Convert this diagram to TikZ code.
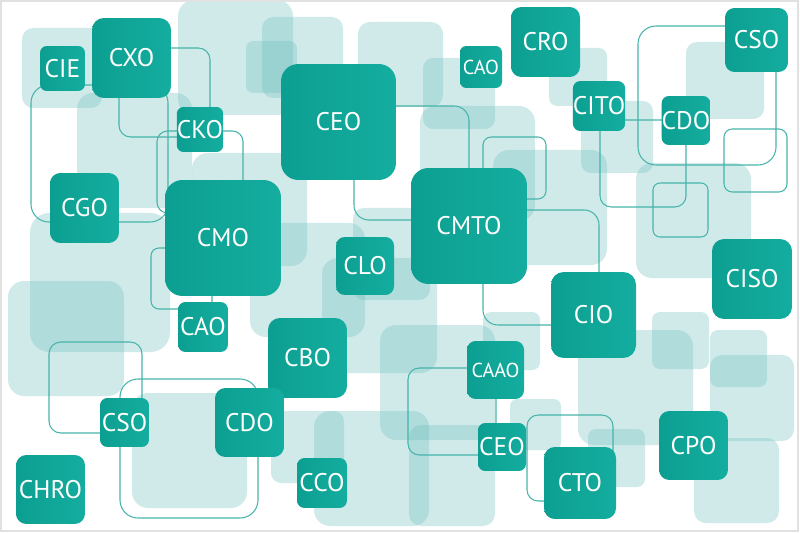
\documentclass[tikz,border=0pt]{standalone}
\usepackage{fontspec}
\setmainfont{PT Sans}
\definecolor{dkL}{RGB}{12,159,145}
\definecolor{dkR}{RGB}{20,173,159}
\definecolor{ltc}{RGB}{110,192,190}
\definecolor{olc}{RGB}{70,180,170}
\definecolor{frame}{RGB}{225,225,225}
\newcommand\smallfnt{\fontsize{11.5}{13}\selectfont}
\newcommand\dkb[6]{\node[dkst, minimum width={(#4-#2)*0.2mm}, minimum height={(#5-#3)*0.2mm}, rounded corners={0.15*(#4-#2)*0.2mm}] (#1) at ({(#2+#4)/2},{(#3+#5)/2}) {#6};}
\newcommand\ltb[4]{\fill[ltst, rounded corners={0.14*min(#3-#1,#4-#2)*0.2mm}] (#1,#2) rectangle (#3,#4);}
\newcommand\olb[4]{\draw[olst, rounded corners={0.13*min(#3-#1,#4-#2)*0.2mm}] (#1,#2) rectangle (#3,#4);}
\tikzset{
  dkst/.style={shape=rectangle, left color=dkL, right color=dkR, draw=none, inner sep=0pt, text=white, font=\fontsize{14.5}{16}\selectfont},
  ltst/.style={fill=ltc, fill opacity=0.32},
  olst/.style={draw=olc, line width=0.6pt}
}
\begin{document}
\begin{tikzpicture}[x=0.02cm, y=-0.02cm]
\useasboundingbox (0,0) rectangle (800,533);
\fill[white] (0,0) rectangle (800,533);
% light boxes
\ltb{22}{28}{102}{108}
\ltb{77}{93}{192}{208}
\ltb{30}{213}{170}{352}
\ltb{8}{281}{124}{396}
\ltb{178}{0}{293}{115}
\ltb{246}{41}{297}{93}
\ltb{262}{17}{343}{98}
\ltb{358}{22}{443}{107}
\ltb{423}{58}{495}{129}
\ltb{420}{106}{535}{221}
\ltb{493}{150}{607}{265}
\ltb{549}{48}{607}{106}
\ltb{581}{101}{653}{173}
\ltb{686}{42}{764}{119}
\ltb{636}{163}{751}{278}
\ltb{132}{393}{247}{508}
\ltb{192}{153}{307}{266}
\ltb{250}{223}{365}{337}
\ltb{322}{258}{437}{373}
\ltb{353}{208}{430}{300}
\ltb{380}{325}{495}{440}
\ltb{271}{411}{344}{483}
\ltb{314}{411}{429}{526}
\ltb{409}{425}{495}{526}
\ltb{578}{330}{693}{445}
\ltb{652}{312}{709}{369}
\ltb{710}{330}{767}{387}
\ltb{710}{355}{794}{441}
\ltb{694}{438}{779}{523}
\ltb{588}{429}{645}{487}
\ltb{510}{399}{561}{450}
\ltb{483}{312}{540}{370}
% outline boxes
\olb{638}{26}{776}{165}
\olb{724}{129}{787}{192}
\olb{653}{183}{708}{237}
\olb{600}{120}{686}{207}
\olb{483}{137}{546}{199}
\olb{354}{106}{469}{220}
\olb{483}{210}{599}{325}
\olb{119}{48}{210}{137}
\olb{157}{131}{243}{213}
\olb{31}{85}{168}{222}
\olb{49}{342}{142}{433}
\olb{120}{379}{258}{518}
\olb{151}{248}{212}{309}
\olb{408}{368}{496}{455}
\olb{527}{415}{613}{501}
% dark boxes
\dkb{cie}{40}{46}{85}{91}{CIE}
\dkb{cxo}{92}{18}{171}{98}{CXO}
\dkb{cko}{178}{107}{222}{152}{CKO}
\dkb{ceo}{281}{64}{396}{180}{CEO}
\dkb{cgo}{50}{173}{119}{243}{CGO}
\dkb{cmo}{165}{180}{281}{296}{CMO}
\dkb{clo}{336}{237}{394}{295}{CLO}
\dkb{caoa}{460}{46}{502}{88}{\smallfnt CAO}
\dkb{cro}{511}{7}{580}{77}{CRO}
\dkb{cito}{574}{81}{624}{131}{CITO}
\dkb{cdoa}{662}{96}{710}{145}{CDO}
\dkb{csoa}{725}{8}{788}{72}{CSO}
\dkb{cmto}{411}{168}{527}{284}{CMTO}
\dkb{ciso}{712}{239}{792}{319}{CISO}
\dkb{caob}{178}{302}{228}{352}{CAO}
\dkb{cbo}{268}{318}{347}{398}{CBO}
\dkb{csob}{100}{398}{149}{447}{CSO}
\dkb{cdob}{215}{388}{284}{457}{CDO}
\dkb{chro}{16}{455}{85}{524}{CHRO}
\dkb{cco}{297}{458}{347}{508}{CCO}
\dkb{cio}{551}{272}{636}{358}{CIO}
\dkb{caao}{467}{341}{524}{399}{\smallfnt CAAO}
\dkb{ceob}{478}{423}{526}{471}{CEO}
\dkb{cto}{544}{447}{616}{519}{CTO}
\dkb{cpo}{659}{411}{728}{480}{CPO}
\draw[frame, line width=0.7pt] (1,1) rectangle (798,531);
\end{tikzpicture}
\end{document}
